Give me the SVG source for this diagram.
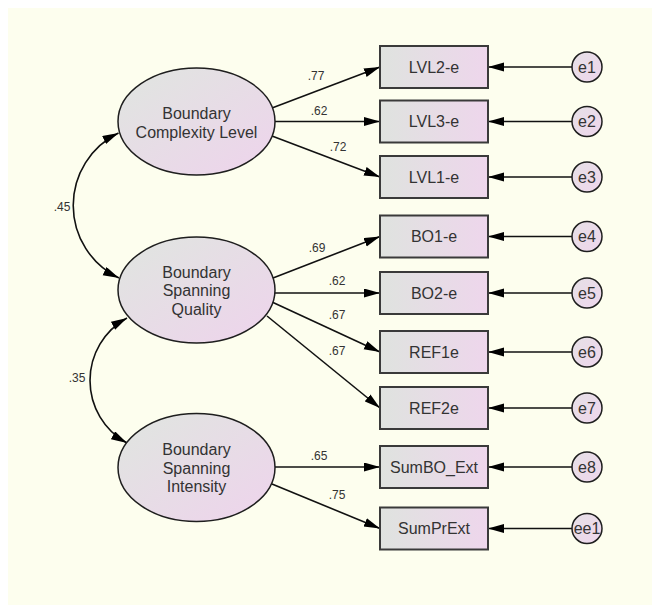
<svg xmlns="http://www.w3.org/2000/svg" width="652" height="605" viewBox="0 0 652 605">
<defs>
<linearGradient id="gBox" x1="0" y1="0" x2="1" y2="0">
<stop offset="0" stop-color="#dfe3df"/>
<stop offset="1" stop-color="#eed6ec"/>
</linearGradient>
<linearGradient id="gEll" x1="0" y1="0" x2="1" y2="1">
<stop offset="0.1" stop-color="#e1e4e1"/>
<stop offset="0.9" stop-color="#edd5eb"/>
</linearGradient>
<linearGradient id="gCir" x1="0" y1="0" x2="1" y2="1">
<stop offset="0" stop-color="#e6e0e6"/>
<stop offset="1" stop-color="#eed6ec"/>
</linearGradient>
<marker id="ah" markerUnits="userSpaceOnUse" markerWidth="17" markerHeight="10" refX="16" refY="4.5" orient="auto-start-reverse">
<path d="M0,0 L16,4.5 L0,9 z" fill="#000"/>
</marker>
</defs>
<style>
.box{fill:url(#gBox);stroke:#3a3a3a;stroke-width:2}
.ell{fill:url(#gEll);stroke:#1e1e1e;stroke-width:1.5}
.cir{fill:url(#gCir);stroke:#1e1e1e;stroke-width:1.5}
.t{font-family:"Liberation Sans",Arial,sans-serif;font-size:16px;fill:#333;text-anchor:middle}
.lb{font-family:"Liberation Sans",Arial,sans-serif;font-size:12px;fill:#333;text-anchor:middle}
.ln{stroke:#111;stroke-width:1.6;fill:none;marker-end:url(#ah)}
.cv{stroke:#111;stroke-width:1.6;fill:none;marker-end:url(#ah);marker-start:url(#ah)}
</style>
<rect x="8" y="8" width="644" height="597" fill="#fdfeee"/>

<g id="connectors">
<path class="ln" d="M272,108 L380,67"/>
<path class="ln" d="M275,121.5 L380,121.5"/>
<path class="ln" d="M272,136 L380,177"/>
<path class="ln" d="M273,278 L380,236.5"/>
<path class="ln" d="M275,293 L380,293"/>
<path class="ln" d="M272,302 L380,352"/>
<path class="ln" d="M267,316 L380,408"/>
<path class="ln" d="M275,467 L380,467"/>
<path class="ln" d="M272,484 L380,528.5"/>
<path class="ln" d="M572,67 L488,67"/>
<path class="ln" d="M572,121.5 L488,121.5"/>
<path class="ln" d="M572,177 L488,177"/>
<path class="ln" d="M572,236.5 L488,236.5"/>
<path class="ln" d="M572,293 L488,293"/>
<path class="ln" d="M572,352 L488,352"/>
<path class="ln" d="M572,408 L488,408"/>
<path class="ln" d="M572,467 L488,467"/>
<path class="ln" d="M572,528.5 L488,528.5"/>
<path class="cv" d="M118.5,133 A80.5,80.5 0 0 0 119,278"/>
<path class="cv" d="M127,318 A71.3,71.3 0 0 0 127,443"/>
<text class="lb" x="316" y="80">.77</text>
<text class="lb" x="319" y="115">.62</text>
<text class="lb" x="338" y="151">.72</text>
<text class="lb" x="317" y="252">.69</text>
<text class="lb" x="337" y="285">.62</text>
<text class="lb" x="337" y="319">.67</text>
<text class="lb" x="337" y="355">.67</text>
<text class="lb" x="319" y="460">.65</text>
<text class="lb" x="337" y="499">.75</text>
<text class="lb" x="62" y="211">.45</text>
<text class="lb" x="77" y="382">.35</text>
</g>

<g id="BCL">
<ellipse class="ell" cx="196.5" cy="121.5" rx="78.5" ry="53.5"/>
<text class="t" x="196.5" y="118.5">Boundary</text>
<text class="t" x="196.5" y="137.5">Complexity Level</text>
</g>
<g id="BSQ">
<ellipse class="ell" cx="196.5" cy="290" rx="78.5" ry="53"/>
<text class="t" x="196.5" y="277.5">Boundary</text>
<text class="t" x="196.5" y="296">Spanning</text>
<text class="t" x="196.5" y="314.5">Quality</text>
</g>
<g id="BSI">
<ellipse class="ell" cx="196.5" cy="467.5" rx="78.5" ry="54"/>
<text class="t" x="196.5" y="455">Boundary</text>
<text class="t" x="196.5" y="473.5">Spanning</text>
<text class="t" x="196.5" y="492">Intensity</text>
</g>

<g id="LVL2"><rect class="box" x="380" y="46" width="108" height="42"/><text class="t" x="434" y="72.5">LVL2-e</text></g>
<g id="LVL3"><rect class="box" x="380" y="100.5" width="108" height="42"/><text class="t" x="434" y="127">LVL3-e</text></g>
<g id="LVL1"><rect class="box" x="380" y="156" width="108" height="42"/><text class="t" x="434" y="182.5">LVL1-e</text></g>
<g id="BO1"><rect class="box" x="380" y="215.5" width="108" height="42"/><text class="t" x="434" y="242">BO1-e</text></g>
<g id="BO2"><rect class="box" x="380" y="272" width="108" height="42"/><text class="t" x="434" y="298.5">BO2-e</text></g>
<g id="REF1"><rect class="box" x="380" y="331" width="108" height="42"/><text class="t" x="434" y="357.5">REF1e</text></g>
<g id="REF2"><rect class="box" x="380" y="387" width="108" height="42"/><text class="t" x="434" y="413.5">REF2e</text></g>
<g id="SumBO"><rect class="box" x="380" y="446" width="108" height="42"/><text class="t" x="434" y="472.5">SumBO_Ext</text></g>
<g id="SumPr"><rect class="box" x="380" y="507.5" width="108" height="42"/><text class="t" x="434" y="534">SumPrExt</text></g>

<g id="e1"><circle class="cir" cx="587" cy="67" r="15"/><text class="t" x="587" y="72.5">e1</text></g>
<g id="e2"><circle class="cir" cx="587" cy="121.5" r="15"/><text class="t" x="587" y="127">e2</text></g>
<g id="e3"><circle class="cir" cx="587" cy="177" r="15"/><text class="t" x="587" y="182.5">e3</text></g>
<g id="e4"><circle class="cir" cx="587" cy="236.5" r="15"/><text class="t" x="587" y="242">e4</text></g>
<g id="e5"><circle class="cir" cx="587" cy="293" r="15"/><text class="t" x="587" y="298.5">e5</text></g>
<g id="e6"><circle class="cir" cx="587" cy="352" r="15"/><text class="t" x="587" y="357.5">e6</text></g>
<g id="e7"><circle class="cir" cx="587" cy="408" r="15"/><text class="t" x="587" y="413.5">e7</text></g>
<g id="e8"><circle class="cir" cx="587" cy="467" r="15"/><text class="t" x="587" y="472.5">e8</text></g>
<g id="ee1"><circle class="cir" cx="587" cy="528.5" r="15"/><text class="t" x="587" y="534">ee1</text></g>
</svg>
